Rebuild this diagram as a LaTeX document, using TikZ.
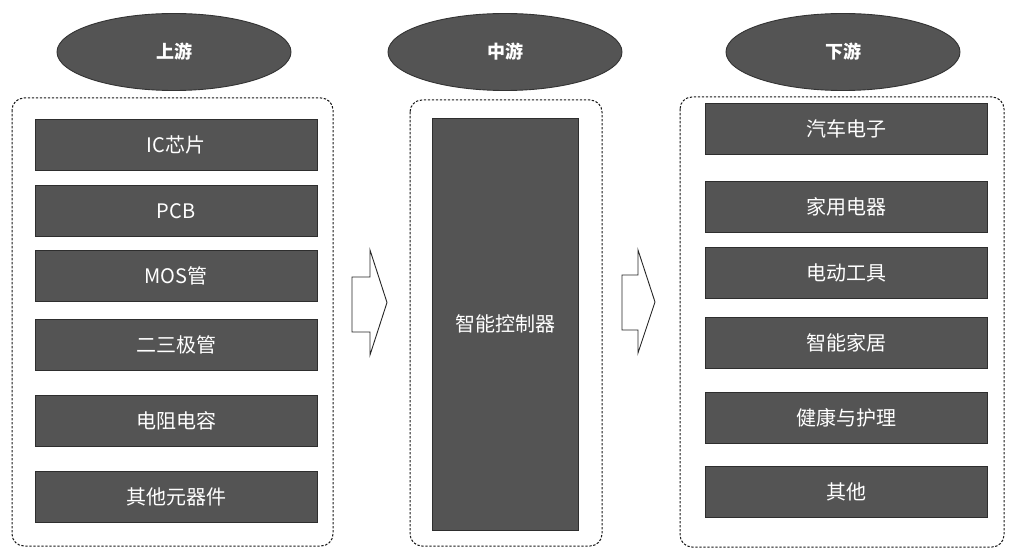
\documentclass[tikz,border=0pt]{standalone}
\usepackage{fontspec}
\usetikzlibrary{shapes.geometric}
\newfontfamily\cjk{Noto Sans CJK SC}
\begin{document}
\begin{tikzpicture}[x=1pt,y=-1pt,
  stage/.style={ellipse,fill=black!67,draw=black!80,line width=0.9pt,minimum width=234pt,minimum height=77pt,inner sep=0pt,text=white,font=\cjk\bfseries\fontsize{18}{18}\selectfont},
  group/.style={draw=black!90,dashed,dash pattern=on 2.4pt off 1.6pt,line width=1pt,rounded corners=12pt},
  bar/.style={rectangle,fill=black!67,draw=black!82,line width=0.9pt,minimum width=282pt,minimum height=51pt,inner sep=0pt,text=white,font=\cjk\fontsize{20}{20}\selectfont},
  blockarrow/.style={draw=black!85,line width=0.9pt,fill=white,line join=miter}
]
\useasboundingbox (0,0) rectangle (1009,553);
\fill[white] (0,0) rectangle (1009,553);
% ellipses
\node[stage] (up) at (174,52) {上游};
\node[stage] (mid) at (505,52) {中游};
\node[stage] (down) at (843,52) {下游};
% dashed groups
\draw[group] (12,98) rectangle (333,546);
\draw[group] (410,100) rectangle (602,546);
\draw[group] (680,97) rectangle (1004,547);
% upstream bars
\node[bar] (u1) at (176,144.5) {IC芯片};
\node[bar] (u2) at (176,211) {PCB};
\node[bar] (u3) at (176,275.5) {MOS管};
\node[bar] (u4) at (176,345) {二三极管};
\node[bar] (u5) at (176,421) {电阻电容};
\node[bar] (u6) at (176,497) {其他元器件};
% midstream
\node[bar,minimum width=146pt,minimum height=412pt] (m1) at (505,324) {智能控制器};
% downstream bars
\node[bar] (d1) at (846,129) {汽车电子};
\node[bar] (d2) at (846,207) {家用电器};
\node[bar] (d3) at (846,273) {电动工具};
\node[bar] (d4) at (846,343) {智能家居};
\node[bar] (d5) at (846,418) {健康与护理};
\node[bar] (d6) at (846,492) {其他};
% block arrows
\draw[blockarrow] (352,277) -- (370,277) -- (370,250) -- (387,302.5) -- (370,355) -- (370,332) -- (352,332) -- cycle;
\draw[blockarrow] (622,275) -- (638,275) -- (638,250) -- (655,302) -- (638,353) -- (638,330) -- (622,330) -- cycle;
\end{tikzpicture}
\end{document}
